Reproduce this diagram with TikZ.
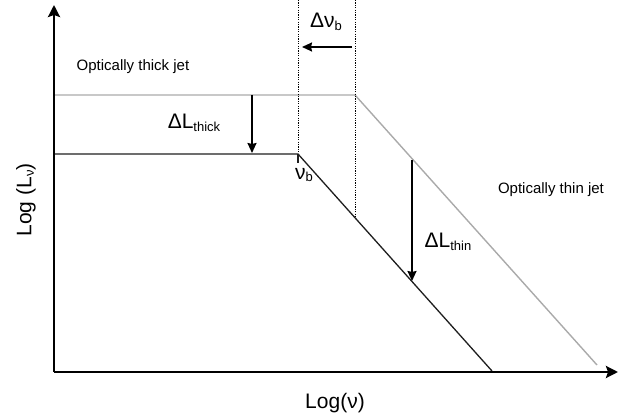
\documentclass[tikz,border=0pt]{standalone}
\usepackage{fontspec}
\setmainfont{Liberation Sans}
\usetikzlibrary{arrows.meta}
\definecolor{jetgray}{RGB}{170,170,170}
\definecolor{jetblack}{RGB}{30,30,30}
\newcommand{\lowsub}[1]{\raisebox{-0.12em}{\fontsize{13}{13}\selectfont #1}}
\tikzset{
  axisline/.style={line width=2.6pt, -{Stealth[length=12pt,width=12pt,inset=2pt]}},
  shiftarrow/.style={line width=1.8pt, -{Stealth[length=10pt,width=9pt,inset=1pt]}},
  thickline/.style={line width=1.4pt, jetgray},
  thinline/.style={line width=1.3pt, jetblack},
  breakline/.style={line width=1pt, dash pattern=on 1.2pt off 1.2pt},
  biglabel/.style={font=\fontsize{21}{21}\selectfont, inner sep=0pt},
  smalllabel/.style={font=\fontsize{15}{15}\selectfont, inner sep=0pt}
}
\begin{document}
\begin{tikzpicture}[x=1pt,y=-1pt]
  \useasboundingbox (0,0) rectangle (619,414);

  %--- Axes ---
  \coordinate (origin) at (54,372);
  \coordinate (ytip) at (54,5);
  \coordinate (xtip) at (618,372);

  %--- Spectra ---
  % optically thick state (gray)
  \coordinate (grayStart) at (54,95);
  \coordinate (grayBreak) at (355,95);
  \coordinate (grayEnd) at (597,365);
  % after the drop (black)
  \coordinate (blackStart) at (54,154);
  \coordinate (blackBreak) at (298,154);
  \coordinate (blackEnd) at (492,371);

  \draw[thickline] (grayStart) -- (grayBreak) -- (grayEnd);
  \draw[thinline] (blackStart) -- (blackBreak) -- (blackEnd);

  % break frequencies
  \coordinate (oldTop) at (355,0);
  \coordinate (oldFoot) at (355,218);
  \coordinate (newTop) at (298,0);
  \coordinate (tickEnd) at (298,163);
  \draw[breakline] (newTop) -- (blackBreak);
  \draw[breakline] (oldTop) -- (oldFoot);
  \draw[thinline] (blackBreak) -- (tickEnd);

  %--- Shifts ---
  \coordinate (nuFrom) at (352,47);
  \coordinate (nuTo) at (302,47);
  \coordinate (thickFrom) at (252,95);
  \coordinate (thickTo) at (252,153);
  \coordinate (thinFrom) at (412,160);
  \coordinate (thinTo) at (412,281);
  \draw[shiftarrow] (nuFrom) -- (nuTo);
  \draw[shiftarrow] (thickFrom) -- (thickTo);
  \draw[shiftarrow] (thinFrom) -- (thinTo);

  \draw[axisline] (origin) -- (ytip);
  \draw[axisline] (origin) -- (xtip);

  %--- Labels ---
  \node[biglabel] (dnu) at (326,22) {Δν\lowsub{b}};
  \node[biglabel] (dthick) at (194,123) {ΔL\lowsub{thick}};
  \node[biglabel] (dthin) at (448,242) {ΔL\lowsub{thin}};
  \node[biglabel] (nub) at (304,175) {ν\lowsub{b}};
  \node[smalllabel] (thicktxt) at (133,67) {Optically thick jet};
  \node[smalllabel] (thintxt) at (551,190) {Optically thin jet};
  \node[biglabel] (xlabel) at (335,403) {Log(ν)};
  \node[biglabel, rotate=90] (ylabel) at (26,200) {Log (L\lowsub{ν})};
\end{tikzpicture}
\end{document}
